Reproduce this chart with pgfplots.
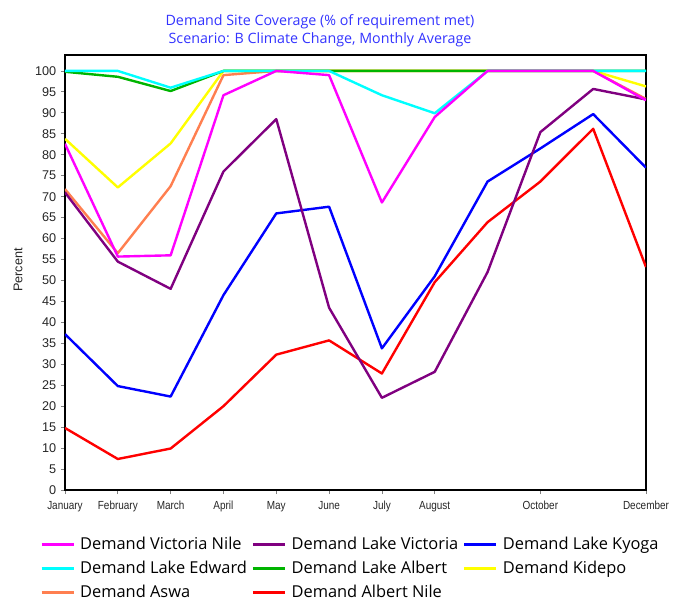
\documentclass[border=0pt]{standalone}
\usepackage{pgfplots}
\pgfplotsset{compat=1.18}
\usepackage{fontspec}
\setmainfont{Liberation Sans}
\newfontfamily\titlefont{Open Sans}
\definecolor{cMag}{HTML}{FF00FF}
\definecolor{cPur}{HTML}{800080}
\definecolor{cBlu}{HTML}{0000FF}
\definecolor{cCya}{HTML}{00FFFF}
\definecolor{cGrn}{HTML}{00B400}
\definecolor{cYel}{HTML}{FFFF00}
\definecolor{cOra}{HTML}{FF7F50}
\definecolor{cRed}{HTML}{FF0000}
\definecolor{cTitle}{HTML}{3333FF}
\begin{document}
\begin{tikzpicture}
\path[use as bounding box] (-48.75pt,-83.25pt) rectangle (456pt,367.5pt);
\begin{axis}[
  at={(0,0)}, anchor=south west,
  scale only axis, width=435.75pt, height=326.25pt,
  xmin=0, xmax=11, ymin=0, ymax=103.8,
  xtick={0,1,2,3,4,5,6,7,9,11},
  xticklabels={January,February,March,April,May,June,July,August,October,December},
  ytick={0,5,...,100},
  tick align=outside, xtick pos=left, ytick pos=left,
  major tick length=3pt,
  tick style={gray, line width=0.6pt},
  axis line style={black, line width=1.1pt},
  /pgf/number format/assume math mode=true,
  yticklabel style={font=\fontsize{9.5}{11}\selectfont, text=black!85},
  xticklabel style={font=\fontsize{8.8}{10}\selectfont, text=black!85, xscale=0.85, yshift=-2pt},
  every axis plot/.append style={line width=1.8pt, line join=round},
  legend columns=3,
  reverse legend,
  legend style={at={(-0.05,-0.096)}, anchor=north west, draw=none, fill=none,
    font=\titlefont\fontsize{12.3}{14.5}\selectfont,
    /tikz/every even column/.append style={column sep=1.5pt},
    column sep=2pt, row sep=3.2pt,
    cells={anchor=west}},
  legend image code/.code={\draw[line width=2pt] (0pt,0pt) -- (24pt,0pt);},
]
% drawn in reverse legend order
\addplot[cRed] coordinates {(0,14.8) (1,7.4) (2,9.9) (3,20) (4,32.3) (5,35.7) (6,27.8) (7,49.6) (8,63.9) (9,73.6) (10,86.2) (11,53.2)};
\addlegendentry{Demand Albert Nile}
\addplot[cOra] coordinates {(0,71.8) (1,56.5) (2,72.5) (3,99) (4,100) (5,100) (6,100) (7,100) (8,100) (9,100) (10,100) (11,93.3)};
\addlegendentry{Demand Aswa}
\addplot[cYel] coordinates {(0,83.8) (1,72.2) (2,82.7) (3,100) (4,100) (5,100) (6,100) (7,100) (8,100) (9,100) (10,100) (11,96.3)};
\addlegendentry{Demand Kidepo}
\addplot[cGrn] coordinates {(0,99.8) (1,98.6) (2,95.2) (3,100) (4,100) (5,100) (6,100) (7,100) (8,100) (9,100) (10,100) (11,100)};
\addlegendentry{Demand Lake Albert}
\addplot[cCya] coordinates {(0,100) (1,100) (2,96) (3,100) (4,100) (5,100) (6,94.2) (7,89.9) (8,100) (9,100) (10,100) (11,100)};
\addlegendentry{Demand Lake Edward}
\addplot[cBlu] coordinates {(0,37.2) (1,24.8) (2,22.3) (3,46.5) (4,66) (5,67.6) (6,33.8) (7,51) (8,73.6) (9,81.5) (10,89.7) (11,76.9)};
\addlegendentry{Demand Lake Kyoga}
\addplot[cPur] coordinates {(0,71) (1,54.5) (2,48) (3,76) (4,88.5) (5,43.5) (6,22) (7,28.2) (8,52) (9,85.4) (10,95.7) (11,93.2)};
\addlegendentry{Demand Lake Victoria}
\addplot[cMag] coordinates {(0,82.6) (1,55.7) (2,56) (3,94.2) (4,100) (5,99) (6,68.6) (7,89) (8,100) (9,100) (10,100) (11,93)};
\addlegendentry{Demand Victoria Nile}
\end{axis}
\node[align=center, text=cTitle, font=\titlefont\fontsize{10.7}{13.5}\selectfont] at (191.25pt,344.5pt) {Demand Site Coverage (\% of requirement met)\\Scenario: B Climate Change, Monthly Average};
\node[rotate=90, font=\fontsize{9.5}{11}\selectfont, text=black!85] at (-35.25pt,165pt) {Percent};
\end{tikzpicture}
\end{document}
